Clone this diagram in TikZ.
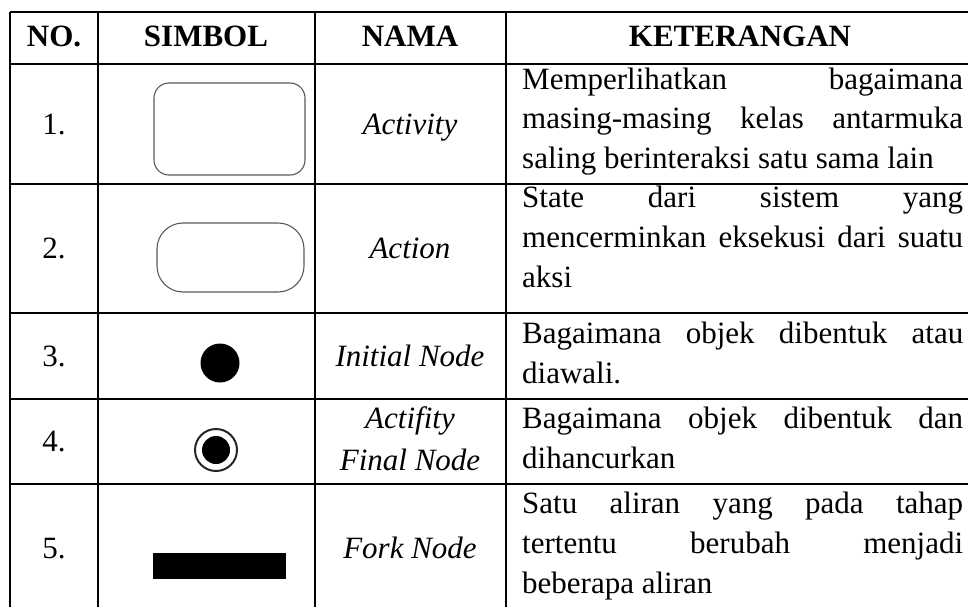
\documentclass[tikz,border=0pt]{standalone}
\usepackage{fontspec}
\setmainfont{Liberation Serif}
\tolerance=10000
\hbadness=10000

\begin{document}
\begin{tikzpicture}[x=1pt,y=-1pt]
\tikzset{
	garis/.style={line width=1.8pt, black},
	judul/.style={font=\fontsize{31}{40}\selectfont\bfseries, anchor=base, inner sep=0},
	teks/.style={font=\fontsize{31}{40}\selectfont, anchor=base, inner sep=0},
	nama/.style={font=\fontsize{31}{42}\selectfont\itshape, anchor=base, inner sep=0, align=center},
	ket/.style={font=\fontsize{31}{40}\selectfont, anchor=base west, inner sep=0, text width=441pt, align=justify},
	simbol/.style={draw=black!65, line width=1.1pt, inner sep=0}
}

\useasboundingbox (0,0) rectangle (968,607);
\clip (0,0) rectangle (968,607);

% garis tabel
\draw[garis] (10,12) -- (968,12);
\draw[garis] (10,64) -- (968,64);
\draw[garis] (10,184) -- (968,184);
\draw[garis] (10,313) -- (968,313);
\draw[garis] (10,399) -- (968,399);
\draw[garis] (10,484) -- (968,484);
\draw[garis] (10,12) -- (10,607);
\draw[garis] (98,12) -- (98,607);
\draw[garis] (315,12) -- (315,607);
\draw[garis] (506,12) -- (506,607);

% judul kolom
\node[judul] (h_no) at (54,47) {NO.};
\node[judul] (h_simbol) at (206,47) {SIMBOL};
\node[judul] (h_nama) at (410,47) {NAMA};
\node[judul] (h_ket) at (740,47) {KETERANGAN};

% NO.
\node[teks] (no_1) at (54,134) {1.};
\node[teks] (no_2) at (54,258) {2.};
\node[teks] (no_3) at (54,366) {3.};
\node[teks] (no_4) at (54,451) {4.};
\node[teks] (no_5) at (54,558) {5.};

% SIMBOL
\node[simbol, rounded corners=15pt, minimum width=151pt, minimum height=92pt] (sym_1) at (229.5,129) {};
\node[simbol, rounded corners=26pt, minimum width=147pt, minimum height=69pt] (sym_2) at (230.5,257.5) {};
\node[circle, fill=black, inner sep=0, minimum size=39pt] (sym_3) at (220,363) {};
\node[circle, draw=black!85, line width=2pt, inner sep=0, minimum size=42pt] (sym_4) at (216,450) {};
\node[circle, fill=black, inner sep=0, minimum size=28pt] (sym_4in) at (216,450) {};
\node[rectangle, fill=black, inner sep=0, minimum width=133pt, minimum height=26pt] (sym_5) at (219.5,566) {};

% NAMA
\node[nama] (nama_1) at (410,134) {Activity};
\node[nama] (nama_2) at (410,258) {Action};
\node[nama] (nama_3) at (410,366) {Initial Node};
\node[nama] (nama_4) at (410,470) {Actifity\\Final Node};
\node[nama] (nama_5) at (410,558) {Fork Node};

% KETERANGAN
\node[ket, font=\fontsize{31}{39}\selectfont] (ket_1) at (522,90) {Memperlihatkan bagaimana\linebreak masing-masing kelas antarmuka\linebreak saling berinteraksi satu sama lain};
\node[ket] (ket_2) at (522,207) {State dari sistem yang\linebreak mencerminkan eksekusi dari suatu\linebreak aksi};
\node[ket] (ket_3) at (522,343) {Bagaimana objek dibentuk atau\linebreak diawali.};
\node[ket] (ket_4) at (522,428) {Bagaimana objek dibentuk dan\linebreak dihancurkan};
\node[ket] (ket_5) at (522,513) {Satu aliran yang pada tahap\linebreak tertentu berubah menjadi\linebreak beberapa aliran};

\end{tikzpicture}
\end{document}
